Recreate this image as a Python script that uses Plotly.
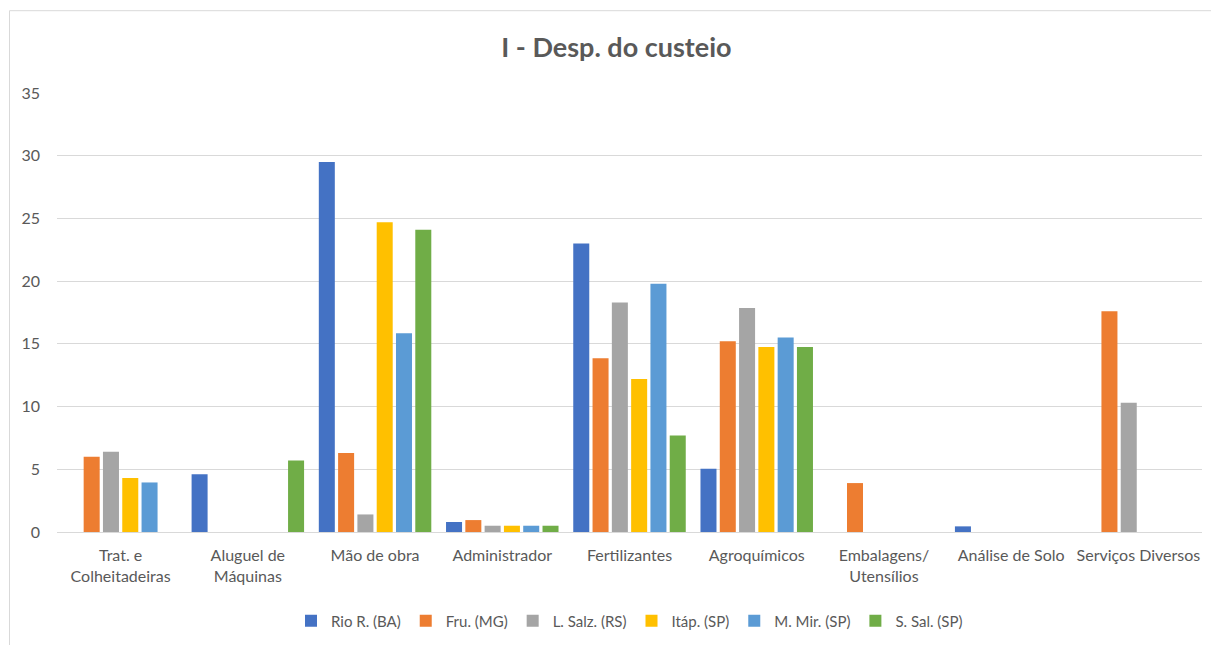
import plotly.graph_objects as go

# Categories of operating expenses (labels wrapped like the axis shows them)
categories = [
    "Trat. e<br>Colheitadeiras",
    "Aluguel de<br>Máquinas",
    "Mão de obra",
    "Administrador",
    "Fertilizantes",
    "Agroquímicos",
    "Embalagens/<br>Utensílios",
    "Análise de Solo",
    "Serviços Diversos",
]

# Series values per region (0 = no expense reported)
rio_r_ba = [0, 4.6, 29.5, 0.8, 23.0, 5.05, 0, 0.45, 0]
fru_mg = [6.0, 0, 6.3, 0.95, 13.85, 15.2, 3.9, 0, 17.6]
l_salz_rs = [6.4, 0, 1.4, 0.5, 18.3, 17.85, 0, 0, 10.3]
itap_sp = [4.3, 0, 24.7, 0.5, 12.2, 14.75, 0, 0, 0]
m_mir_sp = [3.95, 0, 15.85, 0.5, 19.8, 15.5, 0, 0, 0]
s_sal_sp = [0, 5.7, 24.1, 0.5, 7.7, 14.75, 0, 0, 0]

series_names = ["Rio R. (BA)", "Fru. (MG)", "L. Salz. (RS)", "Itáp. (SP)", "M. Mir. (SP)", "S. Sal. (SP)"]
series_values = [rio_r_ba, fru_mg, l_salz_rs, itap_sp, m_mir_sp, s_sal_sp]
series_colors = ["#4472C4", "#ED7D31", "#A5A5A5", "#FFC000", "#5B9BD5", "#70AD47"]

y_ticks = [0, 5, 10, 15, 20, 25, 30, 35]

FONT = "Lato, 'Open Sans', sans-serif"
TEXT = "#595959"
GRID = "#D9D9D9"

fig = go.Figure()
for name, vals, color in zip(series_names, series_values, series_colors):
    fig.add_trace(go.Bar(
        name=name,
        x=categories,
        y=vals,
        marker=dict(color=color, line=dict(width=0)),
    ))

W, H = 1211, 645
L, R, T, B = 57, 9, 93, 112
pw = W - L - R
ph = H - T - B

def px_x(px):
    return (px - L) / pw

def px_y(py):
    return (H - B - py) / ph

fig.update_layout(
    width=W,
    height=H,
    margin=dict(l=L, r=R, t=T, b=B),
    paper_bgcolor="white",
    plot_bgcolor="white",
    barmode="group",
    bargap=0.09,
    bargroupgap=0.17,
    font=dict(family=FONT, color=TEXT, size=16),
    title=dict(
        text="<b>I - Desp. do custeio</b>",
        x=0.509,
        xanchor="center",
        y=1 - 48 / H,
        yanchor="middle",
        font=dict(family=FONT, size=27, color=TEXT),
    ),
    xaxis=dict(
        showgrid=False,
        showline=False,
        ticks="",
        ticklabelstandoff=12,
        tickfont=dict(size=16, color=TEXT),
        automargin=False,
    ),
    yaxis=dict(
        range=[0, 35],
        tickvals=y_ticks,
        showgrid=True,
        gridcolor=GRID,
        gridwidth=1,
        zeroline=True,
        zerolinecolor=GRID,
        zerolinewidth=1,
        showline=False,
        ticks="",
        ticklabelstandoff=16,
        tickfont=dict(size=16, color=TEXT),
        automargin=False,
    ),
    legend=dict(
        orientation="h",
        x=0.5,
        xanchor="center",
        y=px_y(621),
        yanchor="middle",
        font=dict(size=15, color=TEXT),
        itemwidth=30,
        tracegroupgap=0,
    ),
    shapes=[
        dict(
            type="rect",
            xref="paper",
            yref="paper",
            x0=px_x(9.5),
            x1=px_x(1220),
            y0=px_y(660),
            y1=px_y(10.5),
            line=dict(color=GRID, width=1),
            fillcolor="rgba(0,0,0,0)",
            layer="below",
        )
    ],
)

fig.write_html("out.html")
